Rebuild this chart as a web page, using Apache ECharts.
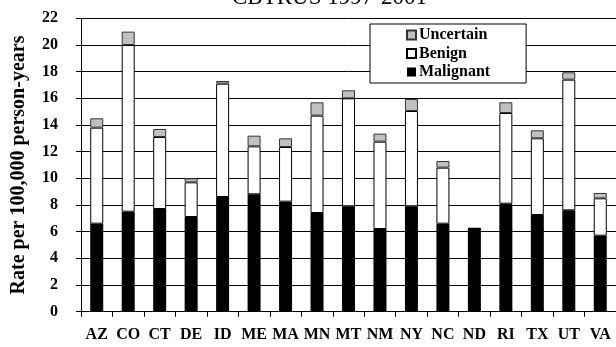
<!DOCTYPE html>
<html>
<head>
<meta charset="utf-8">
<script src="https://cdn.jsdelivr.net/npm/echarts@6/dist/echarts.min.js"></script>
<style>html,body{margin:0;padding:0;background:#fff;}#c{width:616px;height:347px;}</style>
</head>
<body>
<div id="c"></div>
<script>
var categories = ['AZ','CO','CT','DE','ID','ME','MA','MN','MT','NM','NY','NC','ND','RI','TX','UT','VA'];
var malignant = [6.6, 7.5, 7.7, 7.1, 8.6, 8.8, 8.25, 7.4, 7.9, 6.2, 7.9, 6.6, 6.3, 8.1, 7.25, 7.6, 5.7];
var benign    = [7.2, 12.5, 5.4, 2.6, 8.5, 3.6, 4.1, 7.3, 8.1, 6.55, 7.15, 4.2, null, 6.8, 5.75, 9.8, 2.8];
var uncertain = [0.7, 1.0, 0.6, 0.3, 0.2, 0.8, 0.65, 1.0, 0.6, 0.6, 0.9, 0.5, null, 0.8, 0.6, 0.55, 0.4];
var yTicks = [0, 22, 2];
var titleText = 'CBTRUS 1997-2001';
var yName = 'Rate per 100,000 person-years';

var serif = "'Liberation Serif','Times New Roman',serif";
var chart = echarts.init(document.getElementById('c'), null, {renderer: 'canvas'});
function toData(arr){ return arr.map(function(v){ return v === null ? '-' : v; }); }
chart.setOption({
  animation: false,
  backgroundColor: '#fff',
  title: {
    text: titleText, left: 232, top: -14, padding: 0,
    textStyle: {fontFamily: serif, fontSize: 23, fontWeight: 'normal', color: '#000'}
  },
  legend: {
    orient: 'vertical', left: 370, top: 24,
    data: ['Uncertain','Benign','Malignant'],
    backgroundColor: '#fff', borderColor: '#000', borderWidth: 1,
    padding: [3, 36, 3, 36],
    itemWidth: 9, itemHeight: 9, itemGap: 2.5,
    icon: 'rect',
    textStyle: {fontFamily: serif, fontSize: 16, fontWeight: 'bold', color: '#000', lineHeight: 16, padding: [0,0,0,-2]}
  },
  grid: {left: 81, top: 18.3, bottom: 35.3, right: -9, containLabel: false},
  xAxis: {
    type: 'category', data: categories,
    axisLine: {show: true, lineStyle: {color: '#000', width: 1}},
    axisTick: {show: true, length: 5, lineStyle: {color: '#000'}},
    axisLabel: {margin: 15, color: '#000', fontFamily: serif, fontSize: 16, fontWeight: 'bold', interval: 0}
  },
  yAxis: {
    type: 'value', min: yTicks[0], max: yTicks[1], interval: yTicks[2],
    name: yName, nameLocation: 'middle', nameGap: 52,
    nameTextStyle: {fontFamily: serif, fontSize: 20, fontWeight: 'bold', color: '#000'},
    axisLine: {show: true, lineStyle: {color: '#000', width: 1}},
    axisTick: {show: true, length: 5, lineStyle: {color: '#000'}},
    axisLabel: {margin: 23, color: '#000', fontFamily: serif, fontSize: 16, fontWeight: 'bold'},
    splitLine: {show: true, lineStyle: {color: '#000', width: 1}}
  },
  series: [
    {name: 'Malignant', type: 'bar', stack: 's', barWidth: 13, data: toData(malignant),
     itemStyle: {color: '#000', borderColor: '#000', borderWidth: 0}},
    {name: 'Benign', type: 'bar', stack: 's', barWidth: 13, data: toData(benign),
     itemStyle: {color: '#fff', borderColor: '#000', borderWidth: 1}},
    {name: 'Uncertain', type: 'bar', stack: 's', barWidth: 13, data: toData(uncertain),
     itemStyle: {color: '#c0c0c0', borderColor: '#333', borderWidth: 1}}
  ]
});
</script>
</body>
</html>
